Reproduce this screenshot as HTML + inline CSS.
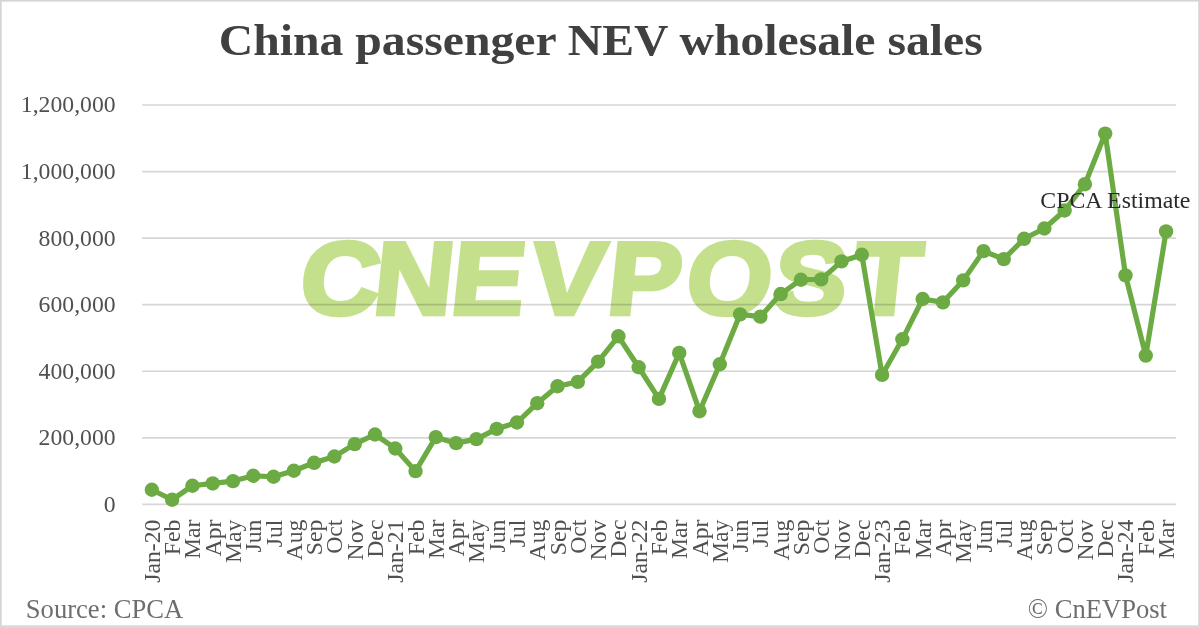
<!DOCTYPE html>
<html><head><meta charset="utf-8"><title>China passenger NEV wholesale sales</title>
<style>
html,body{margin:0;padding:0;background:#fff;}
body{width:1200px;height:628px;overflow:hidden;position:relative;font-family:"Liberation Serif",serif;}
svg{position:absolute;left:0;top:0;display:block;}
text{font-family:"Liberation Serif",serif;}
.ax{font-size:23.7px;fill:#505050;}
.wm{font-family:"Liberation Sans",sans-serif;font-weight:bold;mix-blend-mode:multiply;}
</style></head><body>
<svg width="1200" height="628" viewBox="0 0 1200 628">
<rect x="0" y="0" width="1200" height="628" fill="#ffffff"/>
<text id="title" transform="translate(0 55.2) scale(1 0.95)" x="600.8" y="0" text-anchor="middle" font-size="47.7" font-weight="bold" fill="#404040">China passenger NEV wholesale sales</text>
<line x1="142.2" x2="1176.2" y1="504.40" y2="504.40" stroke="#d6d6d6" stroke-width="1.7"/>
<line x1="142.2" x2="1176.2" y1="437.83" y2="437.83" stroke="#d6d6d6" stroke-width="1.7"/>
<line x1="142.2" x2="1176.2" y1="371.26" y2="371.26" stroke="#d6d6d6" stroke-width="1.7"/>
<line x1="142.2" x2="1176.2" y1="304.69" y2="304.69" stroke="#d6d6d6" stroke-width="1.7"/>
<line x1="142.2" x2="1176.2" y1="238.12" y2="238.12" stroke="#d6d6d6" stroke-width="1.7"/>
<line x1="142.2" x2="1176.2" y1="171.55" y2="171.55" stroke="#d6d6d6" stroke-width="1.7"/>
<line x1="142.2" x2="1176.2" y1="104.98" y2="104.98" stroke="#d6d6d6" stroke-width="1.7"/>
<text id="wm" class="wm" transform="translate(0 314.2) skewX(-6) scale(1.066 1)" x="279.1 348.0 420.7 495.3 567.5 641.2 722.8 797.8" y="0" font-size="103" fill="#c5e08c" stroke="#c5e08c" stroke-width="4.5" stroke-linejoin="miter">CNEVPOST</text>
<text class="ax" x="115.6" y="511.80" text-anchor="end">0</text>
<text class="ax" x="115.6" y="445.23" text-anchor="end">200,000</text>
<text class="ax" x="115.6" y="378.66" text-anchor="end">400,000</text>
<text class="ax" x="115.6" y="312.09" text-anchor="end">600,000</text>
<text class="ax" x="115.6" y="245.52" text-anchor="end">800,000</text>
<text class="ax" x="115.6" y="178.95" text-anchor="end">1,000,000</text>
<text class="ax" x="115.6" y="112.38" text-anchor="end">1,200,000</text>
<text class="ax" transform="translate(159.84 519.6) rotate(-90)" text-anchor="end">Jan-20</text>
<text class="ax" transform="translate(180.13 519.6) rotate(-90)" text-anchor="end">Feb</text>
<text class="ax" transform="translate(200.41 519.6) rotate(-90)" text-anchor="end">Mar</text>
<text class="ax" transform="translate(220.70 519.6) rotate(-90)" text-anchor="end">Apr</text>
<text class="ax" transform="translate(240.98 519.6) rotate(-90)" text-anchor="end">May</text>
<text class="ax" transform="translate(261.26 519.6) rotate(-90)" text-anchor="end">Jun</text>
<text class="ax" transform="translate(281.55 519.6) rotate(-90)" text-anchor="end">Jul</text>
<text class="ax" transform="translate(301.83 519.6) rotate(-90)" text-anchor="end">Aug</text>
<text class="ax" transform="translate(322.12 519.6) rotate(-90)" text-anchor="end">Sep</text>
<text class="ax" transform="translate(342.40 519.6) rotate(-90)" text-anchor="end">Oct</text>
<text class="ax" transform="translate(362.69 519.6) rotate(-90)" text-anchor="end">Nov</text>
<text class="ax" transform="translate(382.97 519.6) rotate(-90)" text-anchor="end">Dec</text>
<text class="ax" transform="translate(403.25 519.6) rotate(-90)" text-anchor="end">Jan-21</text>
<text class="ax" transform="translate(423.54 519.6) rotate(-90)" text-anchor="end">Feb</text>
<text class="ax" transform="translate(443.82 519.6) rotate(-90)" text-anchor="end">Mar</text>
<text class="ax" transform="translate(464.11 519.6) rotate(-90)" text-anchor="end">Apr</text>
<text class="ax" transform="translate(484.39 519.6) rotate(-90)" text-anchor="end">May</text>
<text class="ax" transform="translate(504.68 519.6) rotate(-90)" text-anchor="end">Jun</text>
<text class="ax" transform="translate(524.96 519.6) rotate(-90)" text-anchor="end">Jul</text>
<text class="ax" transform="translate(545.24 519.6) rotate(-90)" text-anchor="end">Aug</text>
<text class="ax" transform="translate(565.53 519.6) rotate(-90)" text-anchor="end">Sep</text>
<text class="ax" transform="translate(585.81 519.6) rotate(-90)" text-anchor="end">Oct</text>
<text class="ax" transform="translate(606.10 519.6) rotate(-90)" text-anchor="end">Nov</text>
<text class="ax" transform="translate(626.38 519.6) rotate(-90)" text-anchor="end">Dec</text>
<text class="ax" transform="translate(646.67 519.6) rotate(-90)" text-anchor="end">Jan-22</text>
<text class="ax" transform="translate(666.95 519.6) rotate(-90)" text-anchor="end">Feb</text>
<text class="ax" transform="translate(687.23 519.6) rotate(-90)" text-anchor="end">Mar</text>
<text class="ax" transform="translate(707.52 519.6) rotate(-90)" text-anchor="end">Apr</text>
<text class="ax" transform="translate(727.80 519.6) rotate(-90)" text-anchor="end">May</text>
<text class="ax" transform="translate(748.09 519.6) rotate(-90)" text-anchor="end">Jun</text>
<text class="ax" transform="translate(768.37 519.6) rotate(-90)" text-anchor="end">Jul</text>
<text class="ax" transform="translate(788.66 519.6) rotate(-90)" text-anchor="end">Aug</text>
<text class="ax" transform="translate(808.94 519.6) rotate(-90)" text-anchor="end">Sep</text>
<text class="ax" transform="translate(829.22 519.6) rotate(-90)" text-anchor="end">Oct</text>
<text class="ax" transform="translate(849.51 519.6) rotate(-90)" text-anchor="end">Nov</text>
<text class="ax" transform="translate(869.79 519.6) rotate(-90)" text-anchor="end">Dec</text>
<text class="ax" transform="translate(890.08 519.6) rotate(-90)" text-anchor="end">Jan-23</text>
<text class="ax" transform="translate(910.36 519.6) rotate(-90)" text-anchor="end">Feb</text>
<text class="ax" transform="translate(930.65 519.6) rotate(-90)" text-anchor="end">Mar</text>
<text class="ax" transform="translate(950.93 519.6) rotate(-90)" text-anchor="end">Apr</text>
<text class="ax" transform="translate(971.21 519.6) rotate(-90)" text-anchor="end">May</text>
<text class="ax" transform="translate(991.50 519.6) rotate(-90)" text-anchor="end">Jun</text>
<text class="ax" transform="translate(1011.78 519.6) rotate(-90)" text-anchor="end">Jul</text>
<text class="ax" transform="translate(1032.07 519.6) rotate(-90)" text-anchor="end">Aug</text>
<text class="ax" transform="translate(1052.35 519.6) rotate(-90)" text-anchor="end">Sep</text>
<text class="ax" transform="translate(1072.64 519.6) rotate(-90)" text-anchor="end">Oct</text>
<text class="ax" transform="translate(1092.92 519.6) rotate(-90)" text-anchor="end">Nov</text>
<text class="ax" transform="translate(1113.20 519.6) rotate(-90)" text-anchor="end">Dec</text>
<text class="ax" transform="translate(1133.49 519.6) rotate(-90)" text-anchor="end">Jan-24</text>
<text class="ax" transform="translate(1153.77 519.6) rotate(-90)" text-anchor="end">Feb</text>
<text class="ax" transform="translate(1174.06 519.6) rotate(-90)" text-anchor="end">Mar</text>
<polyline points="151.84,489.75 172.13,499.74 192.41,485.76 212.70,483.43 232.98,481.10 253.26,475.77 273.55,476.77 293.83,470.78 314.12,462.79 334.40,456.47 354.69,444.15 374.97,434.50 395.25,448.48 415.54,471.12 435.82,437.16 456.11,443.16 476.39,439.16 496.68,428.84 516.96,422.52 537.24,403.21 557.53,386.24 577.81,381.91 598.10,361.61 618.38,336.31 638.67,367.27 658.95,398.89 679.23,352.95 699.52,411.20 719.80,364.27 740.09,314.34 760.37,316.67 780.66,294.04 800.94,279.73 821.22,279.39 841.51,261.42 861.79,254.76 882.08,374.92 902.36,339.31 922.65,299.03 942.93,302.36 963.21,280.39 983.50,251.10 1003.78,259.09 1024.07,238.79 1044.35,228.47 1064.64,210.49 1084.92,184.20 1105.20,133.61 1125.49,275.40 1145.77,355.62 1166.06,231.46" fill="none" stroke="#6cab43" stroke-width="5.2" stroke-linejoin="round" stroke-linecap="round"/>
<circle cx="151.84" cy="489.75" r="7.2" fill="#6cab43"/>
<circle cx="172.13" cy="499.74" r="7.2" fill="#6cab43"/>
<circle cx="192.41" cy="485.76" r="7.2" fill="#6cab43"/>
<circle cx="212.70" cy="483.43" r="7.2" fill="#6cab43"/>
<circle cx="232.98" cy="481.10" r="7.2" fill="#6cab43"/>
<circle cx="253.26" cy="475.77" r="7.2" fill="#6cab43"/>
<circle cx="273.55" cy="476.77" r="7.2" fill="#6cab43"/>
<circle cx="293.83" cy="470.78" r="7.2" fill="#6cab43"/>
<circle cx="314.12" cy="462.79" r="7.2" fill="#6cab43"/>
<circle cx="334.40" cy="456.47" r="7.2" fill="#6cab43"/>
<circle cx="354.69" cy="444.15" r="7.2" fill="#6cab43"/>
<circle cx="374.97" cy="434.50" r="7.2" fill="#6cab43"/>
<circle cx="395.25" cy="448.48" r="7.2" fill="#6cab43"/>
<circle cx="415.54" cy="471.12" r="7.2" fill="#6cab43"/>
<circle cx="435.82" cy="437.16" r="7.2" fill="#6cab43"/>
<circle cx="456.11" cy="443.16" r="7.2" fill="#6cab43"/>
<circle cx="476.39" cy="439.16" r="7.2" fill="#6cab43"/>
<circle cx="496.68" cy="428.84" r="7.2" fill="#6cab43"/>
<circle cx="516.96" cy="422.52" r="7.2" fill="#6cab43"/>
<circle cx="537.24" cy="403.21" r="7.2" fill="#6cab43"/>
<circle cx="557.53" cy="386.24" r="7.2" fill="#6cab43"/>
<circle cx="577.81" cy="381.91" r="7.2" fill="#6cab43"/>
<circle cx="598.10" cy="361.61" r="7.2" fill="#6cab43"/>
<circle cx="618.38" cy="336.31" r="7.2" fill="#6cab43"/>
<circle cx="638.67" cy="367.27" r="7.2" fill="#6cab43"/>
<circle cx="658.95" cy="398.89" r="7.2" fill="#6cab43"/>
<circle cx="679.23" cy="352.95" r="7.2" fill="#6cab43"/>
<circle cx="699.52" cy="411.20" r="7.2" fill="#6cab43"/>
<circle cx="719.80" cy="364.27" r="7.2" fill="#6cab43"/>
<circle cx="740.09" cy="314.34" r="7.2" fill="#6cab43"/>
<circle cx="760.37" cy="316.67" r="7.2" fill="#6cab43"/>
<circle cx="780.66" cy="294.04" r="7.2" fill="#6cab43"/>
<circle cx="800.94" cy="279.73" r="7.2" fill="#6cab43"/>
<circle cx="821.22" cy="279.39" r="7.2" fill="#6cab43"/>
<circle cx="841.51" cy="261.42" r="7.2" fill="#6cab43"/>
<circle cx="861.79" cy="254.76" r="7.2" fill="#6cab43"/>
<circle cx="882.08" cy="374.92" r="7.2" fill="#6cab43"/>
<circle cx="902.36" cy="339.31" r="7.2" fill="#6cab43"/>
<circle cx="922.65" cy="299.03" r="7.2" fill="#6cab43"/>
<circle cx="942.93" cy="302.36" r="7.2" fill="#6cab43"/>
<circle cx="963.21" cy="280.39" r="7.2" fill="#6cab43"/>
<circle cx="983.50" cy="251.10" r="7.2" fill="#6cab43"/>
<circle cx="1003.78" cy="259.09" r="7.2" fill="#6cab43"/>
<circle cx="1024.07" cy="238.79" r="7.2" fill="#6cab43"/>
<circle cx="1044.35" cy="228.47" r="7.2" fill="#6cab43"/>
<circle cx="1064.64" cy="210.49" r="7.2" fill="#6cab43"/>
<circle cx="1084.92" cy="184.20" r="7.2" fill="#6cab43"/>
<circle cx="1105.20" cy="133.61" r="7.2" fill="#6cab43"/>
<circle cx="1125.49" cy="275.40" r="7.2" fill="#6cab43"/>
<circle cx="1145.77" cy="355.62" r="7.2" fill="#6cab43"/>
<circle cx="1166.06" cy="231.46" r="7.2" fill="#6cab43"/>
<text x="1190.4" y="207.8" text-anchor="end" font-size="23.8" fill="#2b2b2b">CPCA Estimate</text>
<text x="25.8" y="617.5" font-size="26.6" fill="#6e6e6e">Source: CPCA</text>
<text x="1167" y="617.5" text-anchor="end" font-size="26.6" fill="#6e6e6e">© CnEVPost</text>
<rect x="0" y="0" width="1200" height="1.6" fill="#d5d5d5"/><rect x="0" y="0" width="1.7" height="628" fill="#d5d5d5"/><rect x="1198.2" y="0" width="1.8" height="628" fill="#d5d5d5"/><rect x="0" y="625.3" width="1200" height="2.7" fill="#d8d8d8"/>
</svg></body></html>
